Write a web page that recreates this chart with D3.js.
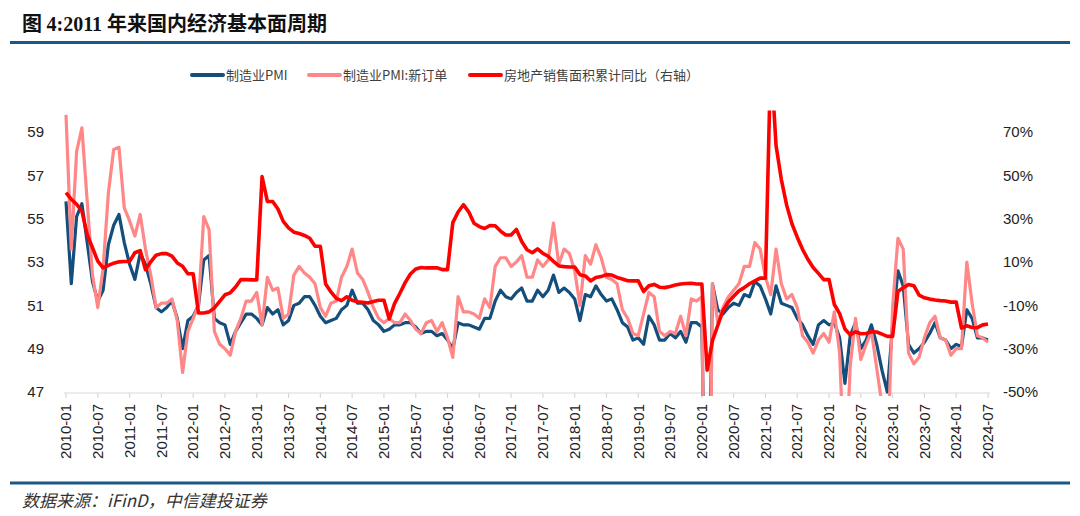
<!DOCTYPE html>
<html>
<head>
<meta charset="utf-8">
<script src="https://cdn.jsdelivr.net/npm/d3@7"></script>
<style>
  html, body { margin: 0; padding: 0; background: #fff; }
  svg { display: block; }
</style>
</head>
<body>
<svg id="chart" width="1080" height="516"></svg>
<script>
// ---------------- data ----------------
const startYear = 2010;
const monthCount = 175; // 2010-01 .. 2024-07

const tickLabels = ["2010-01","2010-07","2011-01","2011-07","2012-01","2012-07","2013-01","2013-07",
  "2014-01","2014-07","2015-01","2015-07","2016-01","2016-07","2017-01","2017-07","2018-01","2018-07",
  "2019-01","2019-07","2020-01","2020-07","2021-01","2021-07","2022-01","2022-07","2023-01","2023-07",
  "2024-01","2024-07"];

const leftTicks = [47, 49, 51, 53, 55, 57, 59];
const rightTicks = [-50, -30, -10, 10, 30, 50, 70];

// 制造业PMI
const pmi = [
  55.8, 52.0, 55.1, 55.7, 53.9, 52.1, 51.2, 51.7, 53.8, 54.7, 55.2, 53.9,
  52.9, 52.2, 53.4, 52.9, 52.0, 50.9, 50.7, 50.9, 51.2, 50.4, 49.0, 50.3,
  50.5, 51.0, 53.1, 53.3, 50.4, 50.2, 50.1, 49.2, 49.8, 50.2, 50.6, 50.6,
  50.4, 50.1, 50.9, 50.6, 50.8, 50.1, 50.3, 51.0, 51.1, 51.4, 51.4, 51.0,
  50.5, 50.2, 50.3, 50.4, 50.8, 51.0, 51.7, 51.1, 51.1, 50.8, 50.3, 50.1,
  49.8, 49.9, 50.1, 50.1, 50.2, 50.2, 50.0, 49.7, 49.8, 49.8, 49.6, 49.7,
  49.4, 49.0, 50.2, 50.1, 50.1, 50.0, 49.9, 50.4, 50.4, 51.2, 51.7, 51.4,
  51.3, 51.6, 51.8, 51.2, 51.2, 51.7, 51.4, 51.7, 52.4, 51.6, 51.8, 51.6,
  51.3, 50.3, 51.5, 51.4, 51.9, 51.5, 51.2, 51.3, 50.8, 50.2, 50.0, 49.4,
  49.5, 49.2, 50.5, 50.1, 49.4, 49.4, 49.7, 49.5, 49.8, 49.3, 50.2, 50.2,
  50.0, 35.7, 52.0, 50.8, 50.6, 50.9, 51.1, 51.0, 51.5, 51.4, 52.1, 51.9,
  51.3, 50.6, 51.9, 51.1, 51.0, 50.9, 50.4, 50.1, 49.6, 49.2, 50.1, 50.3,
  50.1, 50.2, 49.5, 47.4, 49.6, 50.2, 49.0, 49.4, 50.1, 49.2, 48.0, 47.0,
  50.1, 52.6, 51.9, 49.2, 48.8, 49.0, 49.3, 49.7, 50.2, 49.5, 49.4, 49.0,
  49.2, 49.1, 50.8, 50.4, 49.5, 49.5, 49.4
];

// 制造业PMI:新订单
const newOrders = [
  59.8, 53.6, 58.1, 59.2, 55.8, 52.4, 50.9, 52.7, 56.2, 58.2, 58.3, 55.5,
  54.9, 54.2, 55.2, 53.6, 52.4, 50.9, 51.1, 51.1, 51.3, 50.3, 47.9, 49.8,
  50.4, 51.0, 55.1, 54.5, 49.8, 49.2, 49.0, 48.7, 49.8, 50.4, 51.2, 51.2,
  51.6, 50.1, 52.3, 51.7, 51.8, 50.4, 50.6, 52.4, 52.8, 52.5, 52.3, 52.0,
  50.9, 50.5, 51.1, 51.2, 52.3, 52.8, 53.6, 52.5, 52.2, 51.6, 50.9, 50.4,
  50.2, 50.4, 50.2, 50.2, 50.6, 50.3, 49.9, 49.7, 50.2, 50.3, 49.8, 50.2,
  49.5, 48.6, 51.4, 50.7, 50.7, 50.6, 50.4, 51.3, 50.9, 52.8, 53.2, 53.2,
  52.8, 53.0, 53.3, 52.3, 52.3, 53.1, 52.8, 53.1, 54.8, 52.9, 53.6, 53.4,
  52.6, 51.0, 53.3, 52.9, 53.8, 53.2, 52.3, 52.2, 52.0, 50.8, 50.4, 49.7,
  49.6, 50.6, 51.6, 51.4, 49.8, 49.6, 49.8, 49.7, 50.5, 49.6, 51.3, 51.2,
  51.4, 29.3, 52.0, 50.2, 50.9, 51.4, 51.7, 52.0, 52.8, 52.8, 53.9, 53.6,
  52.3, 51.5, 53.6, 52.0, 51.3, 51.5, 50.9, 49.6, 49.3, 48.8, 49.4, 49.7,
  49.3, 50.7, 48.8, 42.6, 48.2, 50.4, 48.5, 49.2, 49.8, 48.1, 46.4, 43.9,
  50.9, 54.1, 53.6, 48.8, 48.3, 48.6, 49.5, 50.2, 50.5, 49.5, 49.4, 48.7,
  49.0, 49.0, 53.0, 51.1, 49.6, 49.5, 49.3
];

// 房地产销售面积累计同比（右轴, %）
const salesArea = [
  42.1, 39.0, 36.7, 33.5, 22.7, 16.6, 10.4, 7.3, 8.5, 9.5, 10.1, 10.3,
  10.3, 14.3, 15.3, 6.5, 10.1, 13.2, 13.9, 13.9, 12.7, 9.6, 8.1, 4.6,
  4.6, -13.5, -13.5, -13.0, -11.2, -8.2, -5.1, -4.2, -1.5, 1.9, 1.9, 1.8,
  1.8, 49.5, 38.0, 38.0, 34.5, 28.8, 25.8, 23.8, 23.2, 22.3, 21.0, 17.3,
  17.3, -0.1, -3.8, -6.8, -7.8, -6.0, -7.6, -8.3, -8.6, -8.9, -8.2, -7.6,
  -7.6, -16.3, -9.2, -4.5, 0.5, 4.5, 6.8, 7.5, 7.3, 7.3, 7.4, 6.5,
  6.5, 28.2, 33.1, 36.5, 33.2, 27.9, 26.4, 25.5, 26.9, 26.8, 24.3, 22.5,
  22.5, 25.1, 19.5, 15.7, 14.3, 16.1, 14.0, 12.7, 10.3, 8.2, 7.9, 7.7,
  7.7, 4.1, 3.6, 1.3, 2.9, 3.3, 4.2, 4.0, 2.9, 2.2, 1.4, 1.3,
  1.3, -3.6, -0.9, -0.3, -1.6, -1.8, -1.3, -0.6, -0.1, 0.1, 0.2, -0.1,
  -0.1, -39.9, -26.3, -19.3, -12.3, -8.4, -5.8, -3.3, -1.8, 0.0, 1.3, 2.6,
  2.6, 104.9, 63.8, 48.1, 36.3, 27.7, 21.5, 15.9, 11.3, 7.5, 4.8, 1.9,
  1.9, -9.6, -13.8, -20.9, -23.6, -22.2, -23.1, -23.0, -22.2, -22.3, -23.3, -24.3,
  -24.3, -3.6, -1.8, -0.4, -0.9, -5.3, -6.5, -7.1, -7.5, -7.8, -8.0, -8.5,
  -8.5, -20.5, -19.4, -20.2, -20.3, -19.0, -18.6
];

const seriesNames = ["制造业PMI", "制造业PMI:新订单", "房地产销售面积累计同比（右轴）"];
const seriesColors = ["#134e7c", "#ff8787", "#ff0000"];

// month categories
const categories = [];
for (let i = 0; i < monthCount; i++) {
  const y = startYear + Math.floor(i / 12);
  const m = (i % 12) + 1;
  categories.push(y + "-" + (m < 10 ? "0" + m : m));
}

// ---------------- drawing ----------------
const svg = d3.select("#chart");
const plot = { left: 66, right: 988, top: 110.5, bottom: 392 };

const x = d3.scalePoint().domain(categories).range([plot.left, plot.right]);
const yL = d3.scaleLinear().domain([47, 60]).range([plot.bottom, plot.top]);
const yR = d3.scaleLinear().domain([-50, 80]).range([plot.bottom, plot.top]);

// title
const title = svg.append("text").attr("x", 22).attr("y", 31)
  .attr("font-size", 20).attr("font-weight", "bold").attr("fill", "#111");
title.append("tspan").attr("font-family", "'Noto Sans CJK SC', sans-serif").text("图 ");
title.append("tspan").attr("font-family", "'Liberation Serif', serif").text("4:2011 ");
title.append("tspan").attr("font-family", "'Noto Sans CJK SC', sans-serif").text("年来国内经济基本面周期");

// rules
svg.append("line").attr("x1", 10).attr("x2", 1070).attr("y1", 42.5).attr("y2", 42.5)
  .attr("stroke", "#1b5888").attr("stroke-width", 3);
svg.append("line").attr("x1", 10).attr("x2", 1070).attr("y1", 483).attr("y2", 483)
  .attr("stroke", "#1b5888").attr("stroke-width", 3);

// source
svg.append("text").attr("x", 22).attr("y", 507)
  .attr("font-family", "'Noto Sans CJK SC', 'Liberation Serif', serif")
  .attr("font-style", "italic").attr("font-size", 17).attr("fill", "#333")
  .text("数据来源：iFinD，中信建投证券");

// legend
const legendX = [192, 309, 470];
const legend = svg.append("g");
seriesNames.forEach((name, k) => {
  legend.append("line").attr("x1", legendX[k]).attr("x2", legendX[k] + 31)
    .attr("y1", 75).attr("y2", 75).attr("stroke", seriesColors[k]).attr("stroke-width", 4)
    .attr("stroke-linecap", "round");
  legend.append("text").attr("x", legendX[k] + 34).attr("y", 80)
    .attr("font-family", "'Noto Sans CJK SC', sans-serif").attr("font-size", 13)
    .attr("fill", "#404040").text(name);
});

// x axis
const xAxis = svg.append("g").attr("transform", `translate(0,${plot.bottom + 1})`);
xAxis.append("line").attr("x1", plot.left - 2).attr("x2", plot.right + 2)
  .attr("stroke", "#d9d9d9").attr("stroke-width", 1.2);
const tickG = xAxis.selectAll("g.tick").data(tickLabels).enter().append("g")
  .attr("transform", d => `translate(${x(d)},0)`);
tickG.append("line").attr("y1", 0).attr("y2", 5).attr("stroke", "#d9d9d9").attr("stroke-width", 1.2);
tickG.append("text").attr("transform", "translate(0,11) rotate(-90)")
  .attr("text-anchor", "end").attr("dy", "0.35em")
  .attr("font-family", "'Liberation Sans', Arial, sans-serif").attr("font-size", 15)
  .attr("fill", "#222").text(d => d);

// left axis labels
svg.append("g").selectAll("text").data(leftTicks).enter().append("text")
  .attr("x", 44).attr("y", d => yL(d)).attr("dy", "0.35em").attr("text-anchor", "end")
  .attr("font-family", "'Liberation Sans', Arial, sans-serif").attr("font-size", 15)
  .attr("fill", "#222").text(d => d);

// right axis labels
svg.append("g").selectAll("text").data(rightTicks).enter().append("text")
  .attr("x", 1003).attr("y", d => yR(d)).attr("dy", "0.35em").attr("text-anchor", "start")
  .attr("font-family", "'Liberation Sans', Arial, sans-serif").attr("font-size", 15)
  .attr("fill", "#222").text(d => d + "%");

// clip
svg.append("clipPath").attr("id", "plotClip").append("rect")
  .attr("x", plot.left - 6).attr("y", plot.top)
  .attr("width", plot.right - plot.left + 12).attr("height", plot.bottom - plot.top + 4);

const lines = svg.append("g").attr("clip-path", "url(#plotClip)");
const lineL = d3.line().x((d, i) => x(categories[i])).y(d => yL(d));
const lineR = d3.line().x((d, i) => x(categories[i])).y(d => yR(d));

lines.append("path").datum(pmi).attr("d", lineL).attr("fill", "none")
  .attr("stroke", seriesColors[0]).attr("stroke-width", 3.2).attr("stroke-linejoin", "round");
lines.append("path").datum(newOrders).attr("d", lineL).attr("fill", "none")
  .attr("stroke", seriesColors[1]).attr("stroke-width", 3.2).attr("stroke-linejoin", "round");
lines.append("path").datum(salesArea).attr("d", lineR).attr("fill", "none")
  .attr("stroke", seriesColors[2]).attr("stroke-width", 3.6).attr("stroke-linejoin", "round");
</script>
</body>
</html>
